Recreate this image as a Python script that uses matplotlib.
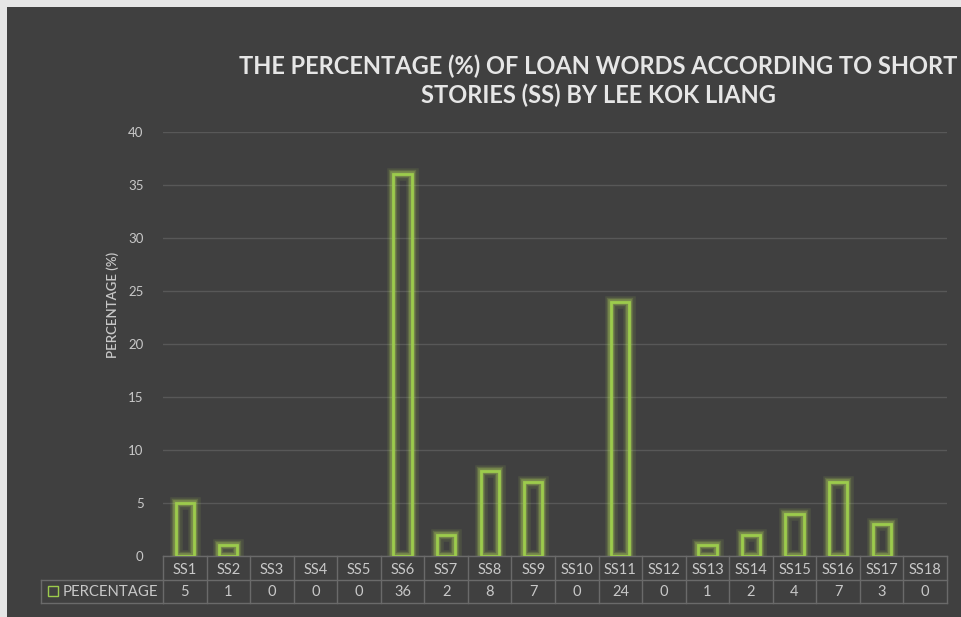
import matplotlib.pyplot as plt
from matplotlib.patches import Rectangle
from matplotlib.transforms import blended_transform_factory

categories = ['SS1', 'SS2', 'SS3', 'SS4', 'SS5', 'SS6', 'SS7', 'SS8', 'SS9', 'SS10',
              'SS11', 'SS12', 'SS13', 'SS14', 'SS15', 'SS16', 'SS17', 'SS18']
percentage = [5, 1, 0, 0, 0, 36, 2, 8, 7, 0, 24, 0, 1, 2, 4, 7, 3, 0]
series_name = 'PERCENTAGE'
title = 'THE PERCENTAGE (%) OF LOAN WORDS ACCORDING TO SHORT\nSTORIES (SS) BY LEE KOK LIANG'

W, H = 961, 617
bg = '#404040'
txt = '#c8c8c8'
green = '#9ccb4c'
linec = '#6a6a6a'

plt.rcParams['font.family'] = ['Lato', 'DejaVu Sans']

fig = plt.figure(figsize=(W / 100, H / 100), dpi=100, facecolor=bg)
# light border strips on the left and top
fig.patches.append(Rectangle((0, 0), 7 / W, 1, transform=fig.transFigure,
                             facecolor='#e6e6e6', edgecolor='none'))
fig.patches.append(Rectangle((0, (H - 7) / H), 1, 7 / H, transform=fig.transFigure,
                             facecolor='#e6e6e6', edgecolor='none'))

ax = fig.add_axes([163 / W, (H - 556) / H, (947 - 163) / W, (556 - 132) / H])
ax.set_facecolor('none')
x = list(range(len(categories)))
lw = [0 if v == 0 else 1 for v in percentage]

# glow
for w_, a_ in [(9, 0.10), (6, 0.18), (4, 0.3)]:
    ax.bar(x, percentage, width=0.42, facecolor='none', edgecolor='#b6e05a',
           linewidth=[w_ * l for l in lw], alpha=a_, zorder=2)
ax.bar(x, percentage, width=0.42, facecolor='none', edgecolor=green,
       linewidth=[2 * l for l in lw], zorder=3)

ax.set_xlim(-0.5, len(categories) - 0.5)
ax.set_ylim(0, 40)
ax.set_yticks(range(0, 41, 5))
ax.yaxis.grid(True, color='#585858', linewidth=1)
ax.set_axisbelow(True)
ax.set_xticks([])
ax.tick_params(axis='y', length=0, colors=txt, labelsize=9.5, pad=14)
for s in ax.spines.values():
    s.set_visible(False)
ax.set_ylabel('PERCENTAGE (%)', color=txt, fontsize=9.5, fontweight='semibold')
ax.yaxis.set_label_coords(-0.056, 0.592)

# data table under the chart
tr = blended_transform_factory(ax.transData, fig.transFigure)
ftr = fig.transFigure
y0, y1, y2 = (H - 556) / H, (H - 580) / H, (H - 603) / H
n = len(categories)
for yy in (y0, y1, y2):
    ax.plot([-0.5, n - 0.5], [yy, yy], color=linec, lw=1, transform=tr, clip_on=False)
for i in range(n + 1):
    ax.plot([i - 0.5, i - 0.5], [y0, y2], color=linec, lw=1, transform=tr, clip_on=False)
fig.add_artist(plt.Line2D([41 / W, 163 / W], [y1, y1], color=linec, lw=1))
fig.add_artist(plt.Line2D([41 / W, 163 / W], [y2, y2], color=linec, lw=1))
fig.add_artist(plt.Line2D([41 / W, 41 / W], [y1, y2], color=linec, lw=1))
for i, (c, v) in enumerate(zip(categories, percentage)):
    ax.text(i, (y0 + y1) / 2 - 2 / H, c, transform=tr, ha='center', va='center',
            color=txt, fontsize=10.5)
    ax.text(i, (y1 + y2) / 2, str(v), transform=tr, ha='center', va='center',
            color=txt, fontsize=10.5)
fig.patches.append(Rectangle((48 / W, (H - 596) / H), 10 / W, 10 / H, transform=ftr,
                             facecolor='none', edgecolor=green, lw=1))
fig.text(63 / W, (y1 + y2) / 2, series_name, ha='left', va='center', color=txt, fontsize=10.7)

fig.text(598 / W, (H - 81) / H, title, ha='center', va='center', color='#e6e6e6',
         fontsize=17.0, fontweight='bold', linespacing=1.3)

fig.savefig('out.png', dpi=100, facecolor=fig.get_facecolor())
